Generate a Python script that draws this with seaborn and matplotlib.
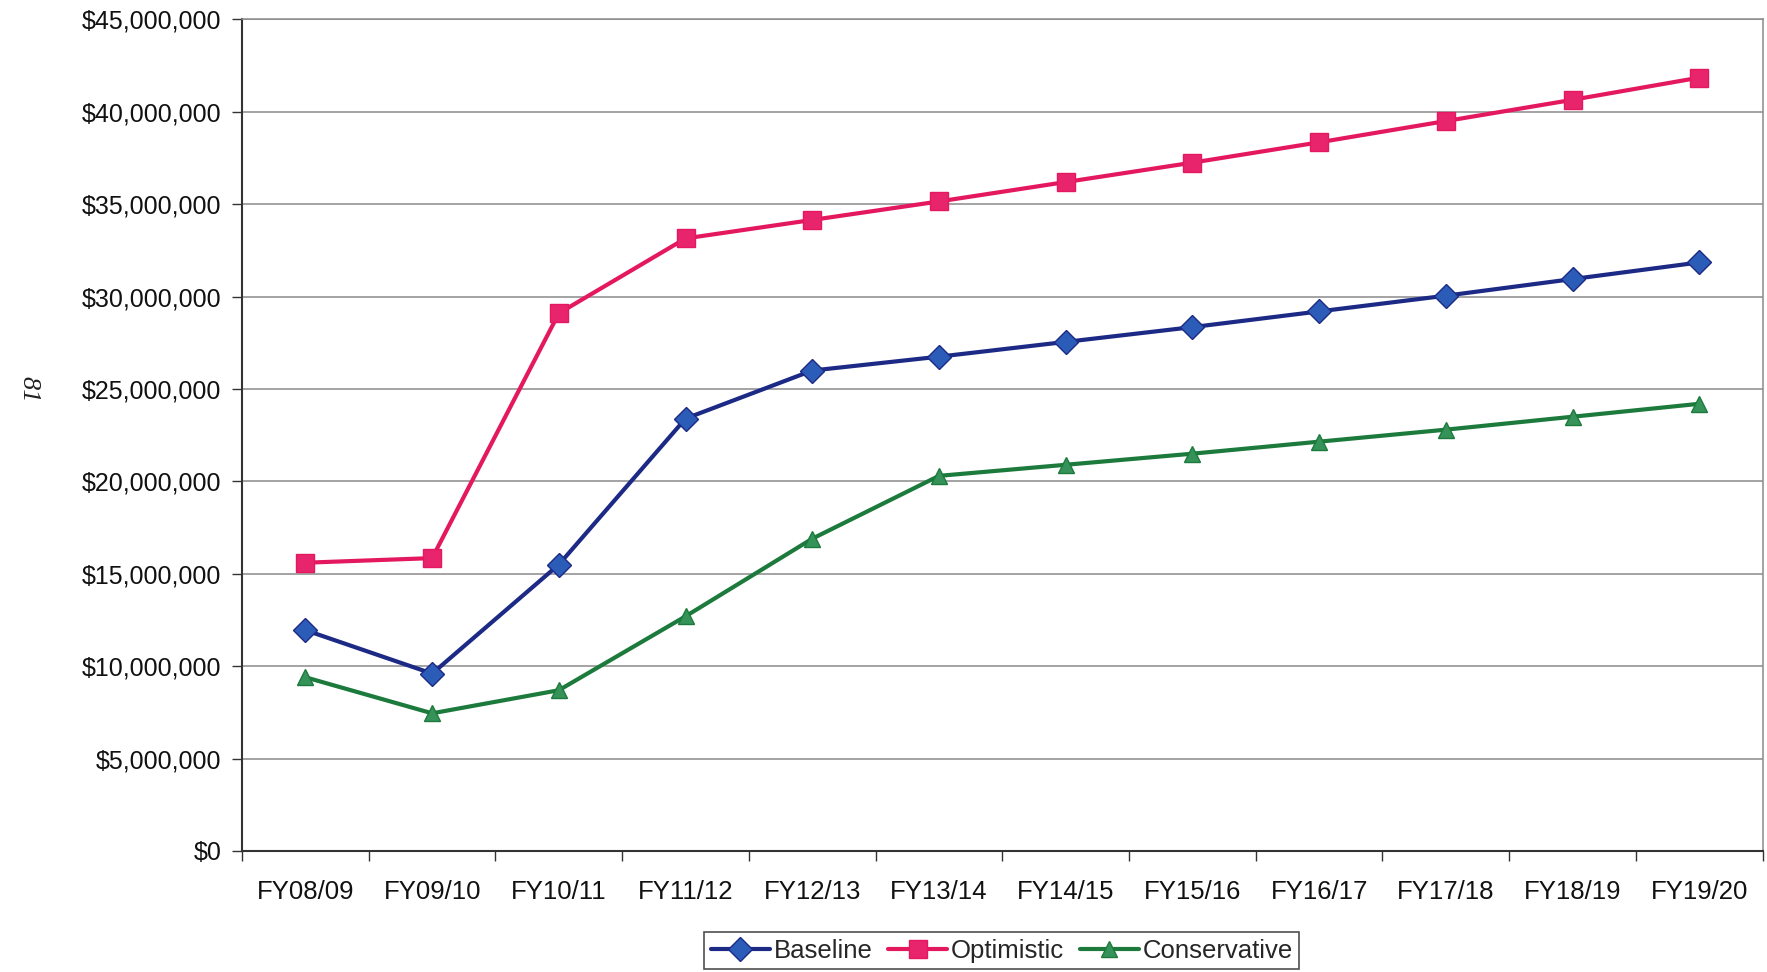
import matplotlib
matplotlib.use("Agg")
import matplotlib.pyplot as plt
import seaborn as sns
import pandas as pd
from matplotlib.ticker import FuncFormatter, FixedLocator

years = ["FY08/09", "FY09/10", "FY10/11", "FY11/12", "FY12/13", "FY13/14",
         "FY14/15", "FY15/16", "FY16/17", "FY17/18", "FY18/19", "FY19/20"]
baseline = [11.95, 9.6, 15.5, 23.4, 26.0, 26.75, 27.55, 28.35, 29.2, 30.05, 30.95, 31.85]
optimistic = [15.6, 15.85, 29.1, 33.15, 34.15, 35.15, 36.2, 37.25, 38.35, 39.5, 40.65, 41.85]
conservative = [9.4, 7.45, 8.7, 12.7, 16.9, 20.3, 20.9, 21.5, 22.15, 22.8, 23.5, 24.2]

sns.set_theme(style="white")
plt.rcParams["font.family"] = ["Liberation Sans", "DejaVu Sans"]

fig = plt.figure(figsize=(17.67, 9.72), dpi=100)
ax = fig.add_axes([0.137, 0.1245, 0.8605, 0.8555])

series = [
    ("Baseline", baseline, "D", "#1c2a86", "#2b5cb8", 12),
    ("Optimistic", optimistic, "s", "#e4185f", "#e8246d", 13.5),
    ("Conservative", conservative, "^", "#1c7a3c", "#35935a", 11),
]

handles = []
for name, vals, mk, lc, fc, ms in series:
    df = pd.DataFrame({"x": range(len(years)), "v": [v * 1e6 for v in vals]})
    sns.lineplot(data=df, x="x", y="v", ax=ax, color=lc, linewidth=3.0,
                 marker=mk, markersize=ms, markerfacecolor=fc,
                 markeredgecolor=lc, markeredgewidth=1.0, label=name,
                 legend=False, zorder=3)
    handles.append(ax.lines[-1])

ax.set_xlim(-0.5, len(years) - 0.5)
ax.set_ylim(0, 45e6)
ax.set_xlabel("")
ax.set_ylabel("")

ax.set_xticks(range(len(years)))
ax.set_xticklabels(years, fontsize=18.5)
ax.xaxis.set_minor_locator(FixedLocator([i - 0.5 for i in range(len(years) + 1)]))
ax.tick_params(axis="x", which="major", length=0, pad=21, labelcolor="#111111")
ax.tick_params(axis="x", which="minor", length=7, width=1, color="#333333", bottom=True)

ax.set_yticks([i * 5e6 for i in range(10)])
ax.yaxis.set_major_formatter(FuncFormatter(lambda v, p: "${:,.0f}".format(v)))
ax.tick_params(axis="y", which="major", length=7, width=1, color="#333333",
               labelsize=18, pad=8, labelcolor="#111111", left=True)

ax.grid(axis="y", color="#8a8a8a", linewidth=1.1)
ax.grid(axis="x", visible=False)
ax.set_axisbelow(True)

for side in ["left", "bottom"]:
    ax.spines[side].set_color("#333333")
    ax.spines[side].set_linewidth(1.5)
for side in ["top", "right"]:
    ax.spines[side].set_color("#8a8a8a")
    ax.spines[side].set_linewidth(1.1)

leg = fig.legend(handles=handles, labels=[s[0] for s in series], ncol=3,
                 loc="center", bbox_to_anchor=(0.567, 0.022), fontsize=18.5,
                 frameon=True, fancybox=False, edgecolor="#222222",
                 handlelength=2.3, handletextpad=0.15, columnspacing=0.6,
                 borderpad=0.25)
leg.get_frame().set_linewidth(1.2)

fig.text(0.016, 0.6, "81", rotation=-90, fontsize=19, style="italic",
         family=["Liberation Serif", "DejaVu Serif"], ha="center", va="center",
         color="#222222")

fig.savefig("out.png", dpi=100, facecolor="white")
